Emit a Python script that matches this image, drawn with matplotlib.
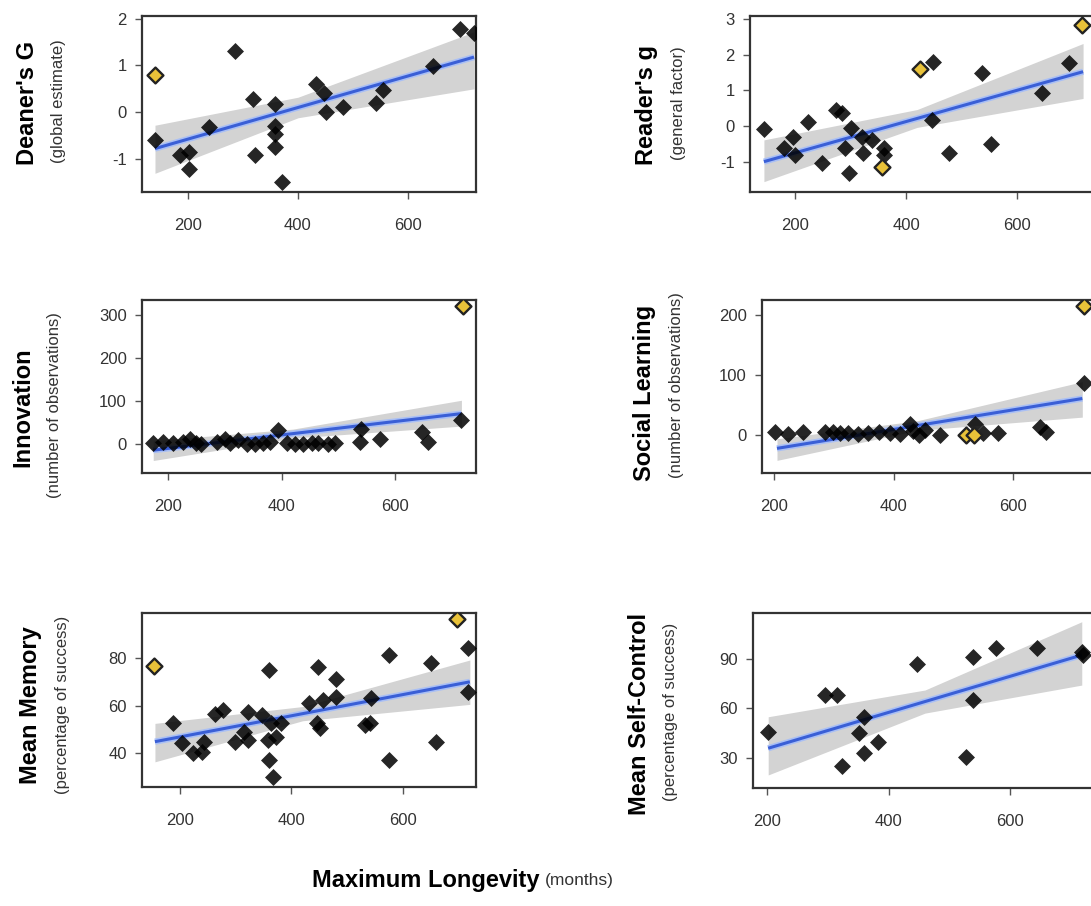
import numpy as np
import matplotlib
matplotlib.use("Agg")
import matplotlib.pyplot as plt

plt.rcParams['font.family'] = ['Liberation Sans', 'DejaVu Sans']
plt.rcParams['axes.unicode_minus'] = False

W, H = 1091, 906

# ---- data (x = maximum longevity in months) ----
# Deaner's G
deaner_x = [140, 185, 202, 201, 238, 285, 319, 322, 359, 359, 359, 359, 371,
            432, 448, 450, 481, 541, 555, 645, 695, 720]
deaner_y = [-0.59, -0.92, -0.85, -1.22, -0.31, 1.31, 0.28, -0.92, 0.17, -0.30,
            -0.46, -0.74, -1.49, 0.61, 0.40, 0.01, 0.11, 0.20, 0.47, 0.99, 1.79, 1.69]
deaner_out_x = [140]
deaner_out_y = [0.79]
# fitted line and confidence band (start, middle, end)
deaner_fit_x = [140, 400, 720]
deaner_fit_y = [-0.78, 0.10, 1.18]
deaner_fit_lo = [-1.31, -0.12, 0.50]
deaner_fit_hi = [-0.28, 0.32, 1.72]

# Reader's g
reader_x = [144, 180, 197, 200, 224, 248, 274, 284, 290, 298, 300, 320, 323,
            338, 360, 360, 446, 449, 478, 536, 553, 645, 693]
reader_y = [-0.08, -0.61, -0.30, -0.81, 0.10, -1.04, 0.45, 0.35, -0.63, -1.32,
            -0.07, -0.30, -0.77, -0.39, -0.62, -0.80, 0.17, 1.80, -0.77, 1.49,
            -0.51, 0.91, 1.75]
reader_out_x = [356, 426, 717]
reader_out_y = [-1.14, 1.59, 2.83]
reader_fit_x = [144, 420, 719]
reader_fit_y = [-1.00, 0.21, 1.52]
reader_fit_lo = [-1.56, -0.04, 0.77]
reader_fit_hi = [-0.39, 0.46, 2.31]

# Innovation
innov_x = [174, 192, 209, 227, 238, 250, 259, 287, 300, 309, 324, 339, 353,
           368, 380, 394, 409, 424, 438, 453, 465, 482, 494, 538, 540, 574,
           647, 658, 717]
innov_y = [2, 4, 3, 6, 12, 3, 1, 5, 12, 3, 10, 1, 0, 2, 5, 33, 2, 0, 1, 3, 3,
           0, 2, 5, 36, 13, 29, 5, 56]
innov_out_x = [719]
innov_out_y = [321]
innov_fit_x = [174, 420, 717]
innov_fit_y = [-14, 24.5, 71]
innov_fit_lo = [-38, 14, 42]
innov_fit_hi = [8, 35, 102]

# Social learning
social_x = [202, 224, 248, 285, 299, 310, 324, 341, 358, 376, 394, 411, 428,
            433, 442, 453, 478, 536, 550, 575, 645, 655, 718]
social_y = [5, 2, 5, 5, 5, 3, 4, 2, 3, 5, 4, 2, 18, 7, 0, 8, 0, 19, 4, 4, 14,
            5, 86]
social_out_x = [522, 534, 718]
social_out_y = [0, 0, 215]
social_fit_x = [205, 440, 716]
social_fit_y = [-22, 16, 61]
social_fit_lo = [-42, 8, 30]
social_fit_hi = [-6, 24, 89]

# Mean memory
memory_x = [187, 203, 223, 239, 243, 263, 277, 299, 314, 322, 322, 347, 360,
            357, 360, 367, 373, 364, 382, 431, 448, 445, 451, 456, 480, 480,
            532, 540, 542, 575, 575, 650, 659, 717, 717]
memory_y = [52.5, 44.3, 40.1, 40.6, 44.8, 56.4, 58.1, 44.8, 49.0, 57.4, 45.5,
            56.0, 75.0, 45.5, 37.0, 30.0, 46.9, 52.5, 52.5, 60.9, 76.3, 52.5,
            50.4, 62.3, 71.4, 63.7, 51.8, 52.5, 63.0, 81.3, 37.2, 77.8, 44.8,
            84.1, 65.8]
memory_out_x = [153, 697]
memory_out_y = [76.6, 96.3]
memory_fit_x = [155, 420, 720]
memory_fit_y = [44.8, 56.6, 70.0]
memory_fit_lo = [36.3, 53.6, 60.5]
memory_fit_hi = [52.5, 59.6, 79.2]

# Mean self-control
selfc_x = [202, 295, 316, 323, 359, 352, 359, 382, 447, 528, 539, 539, 577,
           645, 718, 720]
selfc_y = [45.6, 68.2, 68.2, 25.2, 55.0, 45.3, 33.2, 39.9, 87.0, 30.4, 91.0,
           65.2, 96.5, 96.5, 94.4, 92.4]
selfc_fit_x = [202, 460, 718]
selfc_fit_y = [35.9, 64.2, 92.4]
selfc_fit_lo = [19.7, 57.2, 74.2]
selfc_fit_hi = [55.0, 71.2, 112.6]

panels = [
    # name, sub, points, outliers, fit, rect(px), xlim, ylim, yticks, name pos, sub pos
    ("Deaner's G", "(global estimate)", (deaner_x, deaner_y), (deaner_out_x, deaner_out_y),
     (deaner_fit_x, deaner_fit_y, deaner_fit_lo, deaner_fit_hi),
     (142, 476, 16, 192), (116.4, 723.6), (-1.71, 2.06), [-1, 0, 1, 2], (27, 103), (59, 101)),
    ("Reader's g", "(general factor)", (reader_x, reader_y), (reader_out_x, reader_out_y),
     (reader_fit_x, reader_fit_y, reader_fit_lo, reader_fit_hi),
     (750, 1100, 16, 192), (118.9, 749.5), (-1.85, 3.08), [-1, 0, 1, 2, 3], (646, 105), (679, 103)),
    ("Innovation", "(number of observations)", (innov_x, innov_y), (innov_out_x, innov_out_y),
     (innov_fit_x, innov_fit_y, innov_fit_lo, innov_fit_hi),
     (142, 476, 300, 473), (154.2, 742.7), (-67, 335), [0, 100, 200, 300], (23, 407), (55, 405)),
    ("Social Learning", "(number of observations)", (social_x, social_y), (social_out_x, social_out_y),
     (social_fit_x, social_fit_y, social_fit_lo, social_fit_hi),
     (762, 1100, 300, 473), (179.9, 745.6), (-63, 225), [0, 100, 200], (645, 393), (677, 385)),
    ("Mean Memory", "(percentage of success)", (memory_x, memory_y), (memory_out_x, memory_out_y),
     (memory_fit_x, memory_fit_y, memory_fit_lo, memory_fit_hi),
     (142, 476, 613, 787), (131.8, 731), (25.7, 99), [40, 60, 80], (31, 705), (63, 705)),
    ("Mean Self-Control", "(percentage of success)", (selfc_x, selfc_y), ([], []),
     (selfc_fit_x, selfc_fit_y, selfc_fit_lo, selfc_fit_hi),
     (753, 1100, 613, 788), (177, 748), (11.8, 117.9), [30, 60, 90], (639, 714), (671, 712)),
]

fig = plt.figure(figsize=(W / 100, H / 100), dpi=100)
fig.patch.set_facecolor('white')

for name, sub, (xs, ys), (ox, oy), (fx, fy, flo, fhi), (l, r, t, b), xl, yl, yt, npos, spos in panels:
    ax = fig.add_axes([l / W, 1 - b / H, (r - l) / W, (b - t) / H])

    ax.fill_between(fx, flo, fhi, color='#d3d3d3', linewidth=0, zorder=1)
    ax.plot(fx, fy, color='#a9bff5', lw=4.5, solid_capstyle='butt', zorder=2)
    ax.plot(fx, fy, color='#3a5fd6', lw=2.2, solid_capstyle='butt', zorder=2)

    ax.scatter(xs, ys, marker='D', s=75, color='black', alpha=0.85, linewidths=0, zorder=3)
    if len(ox):
        ax.scatter(ox, oy, marker='D', s=65, facecolor='#e9c239', edgecolor='#222222',
                   linewidths=1.7, zorder=4)

    ax.set_xlim(*xl)
    ax.set_ylim(*yl)
    ax.set_xticks([200, 400, 600])
    ax.set_yticks(yt)
    for sp in ax.spines.values():
        sp.set_color('#333333')
        sp.set_linewidth(1.6)
    ax.tick_params(direction='out', length=5, width=1, color='#555555',
                   labelsize=12, labelcolor='#333333', pad=6)
    ax.tick_params(axis='x', pad=14)

    fig.text(npos[0] / W, 1 - npos[1] / H, name, rotation=90, ha='center', va='center',
             fontsize=17, fontweight='bold', color='black')
    fig.text(spos[0] / W, 1 - spos[1] / H, sub, rotation=90, ha='center', va='center',
             fontsize=12, color='#333333')

fig.text(540 / W, 1 - 881 / H, "Maximum Longevity", ha='right', va='center',
         fontsize=17, fontweight='bold')
fig.text(545 / W, 1 - 881 / H, "(months)", ha='left', va='center', fontsize=12.5,
         color='#333333')

fig.savefig('out.png', dpi=100, facecolor='white')
